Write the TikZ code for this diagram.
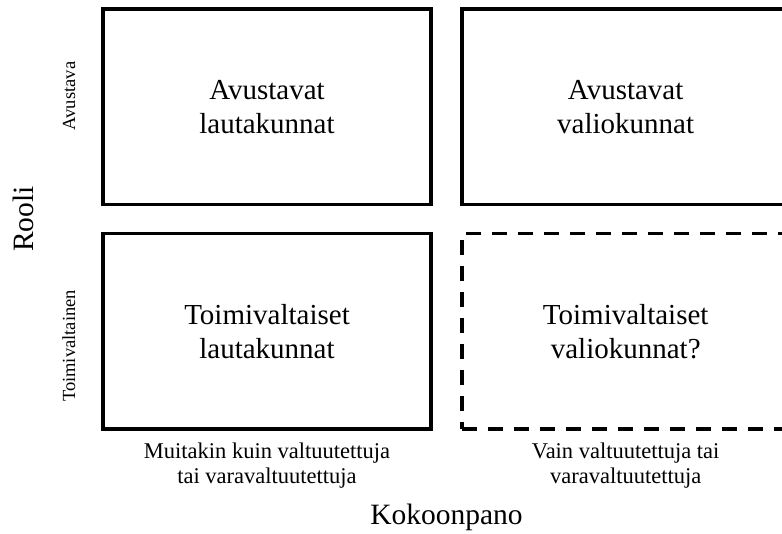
\documentclass[tikz,border=0pt]{standalone}
\usepackage{fontspec}
\setmainfont{Liberation Serif}
\begin{document}
\begin{tikzpicture}[x=1pt,y=-1pt,
  cell/.style={draw=black, line width=3.8pt, inner sep=0pt, outer sep=0pt,
    minimum width=328pt, minimum height=195.5pt, align=center,
    font=\fontsize{29}{34}\selectfont},
  dashcell/.style={cell, dash pattern=on 15pt off 11pt},
  collabel/.style={align=center, inner sep=0pt, font=\fontsize{22.5}{25}\selectfont},
  rowlabel/.style={rotate=90, anchor=base, inner sep=0pt, font=\fontsize{18.5}{22}\selectfont},
  axislabel/.style={anchor=base, inner sep=0pt, font=\fontsize{29.5}{34}\selectfont}]
\useasboundingbox (0,0) rectangle (782,534);
\node[cell] (al) at (267,106.75) {Avustavat\\lautakunnat};
\node[cell] (av) at (625.7,106.75) {Avustavat\\valiokunnat};
\node[cell] (tl) at (267,331.25) {Toimivaltaiset\\lautakunnat};
\node[dashcell] (tv) at (625.7,331.25) {Toimivaltaiset\\valiokunnat?};
\node[collabel] (c1) at (267,465.2) {Muitakin kuin valtuutettuja\\tai varavaltuutettuja};
\node[collabel] (c2) at (625.7,465.2) {Vain valtuutettuja tai\\varavaltuutettuja};
\node[axislabel] (xk) at (446.5,524) {Kokoonpano};
\node[rowlabel] (r1) at (75,96) {Avustava};
\node[rowlabel] (r2) at (75,346) {Toimivaltainen};
\node[axislabel, rotate=90] (yr) at (34,219) {Rooli};
\end{tikzpicture}
\end{document}
